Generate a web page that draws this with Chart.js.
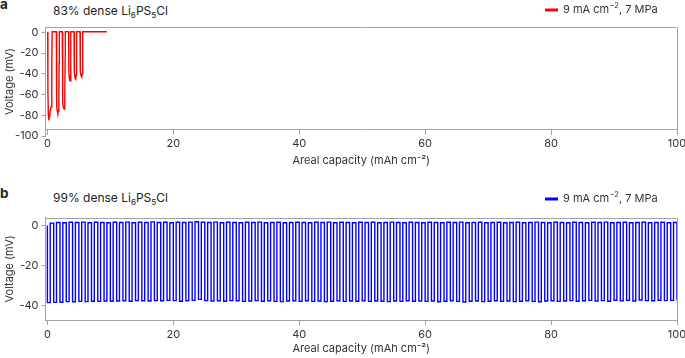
<!DOCTYPE html>
<html>
<head>
<meta charset="utf-8">
<script src="https://cdn.jsdelivr.net/npm/chart.js@4.4.1/dist/chart.umd.min.js"></script>
<style>
  body { margin: 0; background: #fff; }
  #wrap { position: relative; width: 685px; height: 358px; font-family: Inter, sans-serif; color: #222; }
  canvas { position: absolute; left: 0; }
  .tag { position: absolute; left: 0; font-weight: bold; font-size: 13.5px; line-height: 13px; }
  .head { position: absolute; left: 53px; font-size: 12px; line-height: 14px; }
  sub { font-size: 0.68em; vertical-align: -0.35em; line-height: 0; }
</style>
</head>
<body>
<div id="wrap">
  <div class="tag" style="top:-2px">a</div>
  <div class="head" style="top:4px">83% dense Li<sub>6</sub>PS<sub>5</sub>Cl</div>
  <canvas id="chartA" width="685" height="179" style="top:0"></canvas>
  <div class="tag" style="top:187px">b</div>
  <div class="head" style="top:191px">99% dense Li<sub>6</sub>PS<sub>5</sub>Cl</div>
  <canvas id="chartB" width="685" height="179" style="top:179px"></canvas>
</div>
<script>
// axis ticks
const xTicks = [0, 20, 40, 60, 80, 100];
const yTicksA = [0, -20, -40, -60, -80, -100];
const yTicksB = [0, -20, -40];

// panel a: 83% dense pellet, red trace (mAh cm-2 vs mV)
const capA = [0.05, 0.08, 0.15, 0.25, 0.3, 0.36, 0.44, 0.52, 0.62, 0.68, 0.72, 0.76,
              1.42, 1.45, 1.51, 1.6, 1.68, 1.76, 1.82, 1.86, 1.9,
              2.37, 2.4, 2.46, 2.56, 2.66, 2.74, 2.79, 2.82, 2.85,
              3.38, 3.4, 3.45, 3.53, 3.62, 3.68, 3.72, 3.75,
              4.23, 4.25, 4.3, 4.4, 4.5, 4.57, 4.62, 4.65,
              5.18, 5.2, 5.25, 5.35, 5.45, 5.54, 5.6, 5.63,
              9.45];
const voltA = [0.5, -55, -80, -85, -78, -82, -75, -73, -72, -70, -30, 0.5,
               0.5, -55, -72, -77, -78, -76, -70, -30, 0.5,
               0.5, -50, -69, -73, -74, -72, -62, -25, 0.5,
               0.5, -32, -42, -46, -47, -44, -20, 0.5,
               0.5, -30, -39, -44, -45, -41, -15, 0.5,
               0.5, -28, -37, -42, -43, -40, -12, 0.5,
               0.5];

// panel b: 99% dense pellet, one low (stripping) and one high (plating) level per cycle
const stripB = [-38.5, -38.4, -38.3, -38.0, -38.1, -37.9, -38.0, -37.8, -37.9, -37.7,
                -37.8, -37.7, -37.6, -37.8, -37.5, -37.6, -37.7, -37.5, -37.6, -37.4,
                -37.5, -37.8, -37.6, -37.4, -36.9, -37.5, -37.7, -37.6, -37.8, -37.5,
                -37.6, -37.9, -37.7, -37.5, -37.8, -37.6, -37.9, -38.0, -37.7, -37.6,
                -37.8, -37.6, -37.9, -37.7, -38.0, -37.8, -37.6, -37.9, -37.7, -37.8,
                -37.6, -37.9, -37.7, -37.8, -38.0, -37.7, -37.9, -37.6, -37.8, -37.7,
                -37.9, -37.7, -38.1, -37.8, -37.6, -37.9, -38.2, -37.8, -37.7, -38.0,
                -37.8, -37.6, -37.9, -37.7, -38.0, -37.8, -37.6, -37.9, -38.1, -37.7,
                -37.6, -37.9, -37.7, -37.5, -37.8, -37.6, -37.4, -37.7, -37.5, -37.8,
                -37.3, -37.6, -37.4, -37.7, -37.2, -37.5, -37.6, -37.3, -37.5, -37.4,
                -37.4];
const plateB = [1.2, 1.5, 1.4, 1.6, 1.5, 1.7, 1.4, 1.6, 1.5, 1.4,
                1.6, 1.5, 1.7, 1.4, 1.6, 1.5, 1.8, 1.5, 1.6, 1.4,
                1.6, 1.5, 1.7, 1.9, 1.6, 1.5, 1.7, 1.4, 1.6, 1.5,
                1.4, 1.6, 1.5, 1.7, 1.4, 1.5, 1.6, 1.4, 1.5, 1.6,
                1.5, 1.4, 1.6, 1.5, 1.7, 1.4, 1.6, 1.5, 1.4, 1.6,
                1.5, 1.6, 1.4, 1.5, 1.7, 1.5, 1.4, 1.6, 1.5, 1.4,
                1.6, 1.5, 1.4, 1.6, 1.5, 1.7, 1.4, 1.5, 1.6, 1.4,
                1.5, 1.6, 1.4, 1.5, 1.6, 1.4, 1.5, 1.7, 1.5, 1.4,
                1.6, 1.5, 1.4, 1.6, 1.5, 1.4, 1.6, 1.5, 1.7, 1.4,
                1.5, 1.6, 1.4, 1.5, 1.6, 1.4, 1.5, 1.6, 1.4, 1.5];
const riseAt = 0.45; // fraction of each 1 mAh cm-2 cycle spent stripping

const legendParts = ['9 mA cm', '\u22122', ', 7 MPa'];
const xTitle = 'Areal capacity (mAh cm\u207B\u00B2)';
const yTitle = 'Voltage (mV)';

const axisGray = '#a3a3a3';
const textColor = '#333';
const family = 'Inter, sans-serif';

const pointsA = capA.map((c, i) => ({x: c, y: voltA[i]}));
const pointsB = [{x: 0, y: 0}];
for (let k = 0; k < plateB.length; k++) {
    pointsB.push({x: k, y: stripB[k]}, {x: k + riseAt, y: stripB[k]},
                 {x: k + riseAt, y: plateB[k]}, {x: k + 1, y: plateB[k]});
}
pointsB.push({x: plateB.length, y: stripB[plateB.length]});

// top/right frame lines and the little legend in the corner
const framePlugin = {
    id: 'frame',
    beforeDatasetsDraw(chart, args, opts) {
        const {ctx, chartArea: a, scales} = chart;
        const bottom = opts.axisAt != null ? scales.y.getPixelForValue(opts.axisAt) : a.bottom;
        ctx.save();
        ctx.strokeStyle = axisGray;
        ctx.lineWidth = 1;
        ctx.beginPath();
        ctx.moveTo(a.left, Math.round(a.top) + 0.5);
        ctx.lineTo(Math.round(a.right) + 0.5, Math.round(a.top) + 0.5);
        ctx.lineTo(Math.round(a.right) + 0.5, bottom);
        ctx.stroke();
        ctx.restore();
    },
    afterDraw(chart, args, opts) {
        const ctx = chart.ctx;
        const y = opts.legendY;
        ctx.save();
        ctx.strokeStyle = chart.data.datasets[0].borderColor;
        ctx.lineWidth = 3;
        ctx.beginPath();
        ctx.moveTo(545, y);
        ctx.lineTo(558, y);
        ctx.stroke();
        ctx.fillStyle = textColor;
        ctx.textBaseline = 'middle';
        let x = 563;
        ctx.font = '11px ' + family;
        ctx.fillText(legendParts[0], x, y);
        x += ctx.measureText(legendParts[0]).width + 0.5;
        ctx.font = '7.5px ' + family;
        ctx.fillText(legendParts[1], x, y - 4);
        x += ctx.measureText(legendParts[1]).width;
        ctx.font = '11px ' + family;
        ctx.fillText(legendParts[2], x, y);
        ctx.restore();
    }
};

function makeChart(id, points, color, yMin, yMax, yTicks, axisAt, xHeight, pad, legendY) {
    return new Chart(document.getElementById(id), {
        type: 'line',
        data: {
            datasets: [{
                data: points,
                borderColor: color,
                borderWidth: 1.4,
                pointRadius: 0,
                tension: 0,
                fill: false
            }]
        },
        options: {
            responsive: false,
            animation: false,
            events: [],
            layout: { padding: pad },
            plugins: {
                legend: { display: false },
                tooltip: { enabled: false },
                frame: { axisAt: axisAt, legendY: legendY }
            },
            scales: {
                x: {
                    type: 'linear',
                    min: -0.3,
                    max: 100,
                    position: axisAt == null ? 'bottom' : { y: axisAt },
                    afterBuildTicks: s => { s.ticks = xTicks.map(v => ({value: v})); },
                    afterFit: s => { s.height = xHeight; s.paddingLeft = 0; s.paddingRight = 0; },
                    grid: { display: true, drawOnChartArea: false, tickLength: 5, color: axisGray, lineWidth: 1 },
                    border: { display: true, color: axisGray, width: 1 },
                    ticks: { color: textColor, font: { family: family, size: 11 }, padding: 3, maxRotation: 0 },
                    title: { display: true, text: xTitle, color: textColor, font: { family: family, size: 11 }, padding: 0 }
                },
                y: {
                    type: 'linear',
                    min: yMin,
                    max: yMax,
                    afterBuildTicks: s => { s.ticks = yTicks.map(v => ({value: v})); },
                    afterFit: s => { s.width = 45.5; s.paddingTop = 0; s.paddingBottom = 0; },
                    grid: { display: true, drawOnChartArea: false, tickLength: 4, color: axisGray, lineWidth: 1 },
                    border: { display: true, color: axisGray, width: 1 },
                    ticks: { color: textColor, font: { family: family, size: 11 }, padding: 3 },
                    title: { display: true, text: yTitle, color: textColor, font: { family: family, size: 11 }, padding: { top: 3.4, bottom: 0 } }
                }
            }
        },
        plugins: [framePlugin]
    });
}

makeChart('chartA', pointsA, '#ff0000', -100, 5.1, yTicksA, -93.5, 38.3,
          { top: 27, bottom: 43, left: 0, right: 8 }, 10);
makeChart('chartB', pointsB, '#0000ff', -47.2, 3.9, yTicksB, null, 35.6,
          { top: 38.7, bottom: 2.4, left: 0, right: 8 }, 20);
</script>
</body>
</html>
